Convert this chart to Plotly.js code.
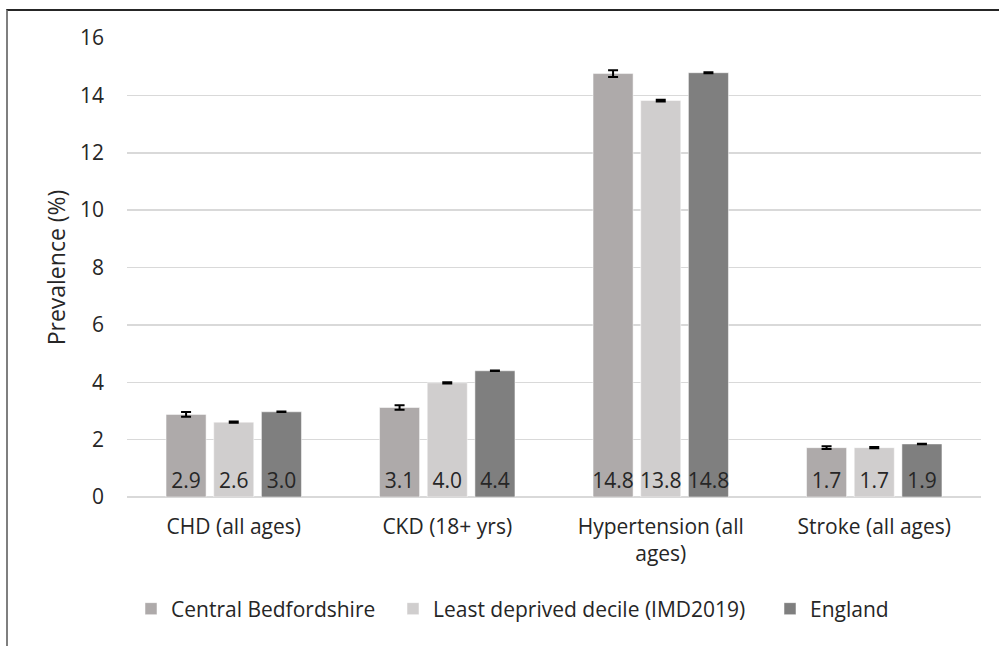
<!DOCTYPE html>
<html>
<head>
<meta charset="utf-8">
<script src="https://cdn.plot.ly/plotly-3.0.1.min.js"></script>
<style>
  html, body { margin: 0; padding: 0; background: #fff; }
  #chart { width: 999px; height: 646px; position: absolute; left: 0; top: 0; }
  #frame { position: absolute; left: 6px; top: 9px; width: 1000px; height: 700px;
           border-left: 2px solid #7f7f7f; border-top: 2px solid #262626; pointer-events: none; }
</style>
</head>
<body>
<div id="chart"></div>
<div id="frame"></div>
<script>
const categories = ["CHD (all ages)", "CKD (18+ yrs)", "Hypertension (all<br>ages)", "Stroke (all ages)"];
const seriesNames = ["Central Bedfordshire", "Least deprived decile (IMD2019)", "England"];
const centralBeds = [2.88, 3.12, 14.76, 1.72];
const centralBedsErr = [0.08, 0.08, 0.12, 0.05];
const leastDeprived = [2.61, 3.98, 13.82, 1.72];
const leastDeprivedErr = [0.02, 0.02, 0.03, 0.02];
const england = [2.97, 4.40, 14.79, 1.85];
const englandErr = [0.01, 0.01, 0.02, 0.01];
const colors = ["#AEAAAA", "#D0CECE", "#7F7F7F"];
const yTicks = [0, 2, 4, 6, 8, 10, 12, 14, 16];

const values = [centralBeds, leastDeprived, england];
const errs = [centralBedsErr, leastDeprivedErr, englandErr];

const font = "'Open Sans', 'Noto Sans', sans-serif";
const fs = 21;

const W = 999, H = 646;
const M = { l: 127, r: 18, t: 38, b: 149 };
const plotW = W - M.l - M.r;
const plotH = H - M.t - M.b;
const pxToPaperX = px => (px - M.l) / plotW;
const pxToPaperY = py => (H - M.b - py) / plotH;

const legendIds = ["legend", "legend2", "legend3"];
const legendLeftPx = [131, 393, 770];

const traces = seriesNames.map((name, i) => ({
  type: "bar",
  name: name,
  legend: legendIds[i],
  x: categories,
  y: values[i],
  marker: { color: colors[i], line: { color: "rgba(255,255,255,0.5)", width: 1 } },
  error_y: { type: "data", array: errs[i], visible: true, color: "#000", thickness: 2, width: 5 },
  texttemplate: "%{y:.1f}",
  textposition: "inside",
  insidetextanchor: "start",
  textangle: 0,
  textfont: { family: font, size: fs, color: "#262626" },
  hoverinfo: "skip"
}));

const layout = {
  width: W,
  height: H,
  margin: M,
  paper_bgcolor: "#fff",
  plot_bgcolor: "#fff",
  barmode: "group",
  bargap: 0.33,
  bargroupgap: 0.16,
  showlegend: true,
  font: { family: font, size: fs, color: "#262626" },
  uniformtext: { mode: "show", minsize: fs },
  xaxis: {
    type: "category",
    showgrid: false,
    showline: false,
    zeroline: false,
    ticks: "",
    ticklabelstandoff: 15,
    tickfont: { family: font, size: fs, color: "#262626" },
    automargin: false
  },
  yaxis: {
    range: [0, 16],
    tickvals: yTicks,
    ticktext: yTicks.map(String),
    showgrid: true,
    gridcolor: "#D9D9D9",
    gridwidth: 1.5,
    zeroline: true,
    zerolinecolor: "#D9D9D9",
    zerolinewidth: 1.5,
    ticks: "",
    ticklen: 0,
    ticklabelstandoff: 22,
    tickfont: { family: font, size: fs, color: "#262626" },
    title: { text: "Prevalence (%)", font: { family: font, size: 23, color: "#262626" }, standoff: 7 },
    automargin: false
  }
};

legendIds.forEach((id, i) => {
  layout[id] = {
    orientation: "h",
    x: pxToPaperX(legendLeftPx[i]),
    xanchor: "left",
    y: pxToPaperY(609),
    yanchor: "middle",
    bgcolor: "rgba(0,0,0,0)",
    font: { family: font, size: fs, color: "#262626" }
  };
});

Plotly.newPlot("chart", traces, layout, { displayModeBar: false, staticPlot: true });
</script>
</body>
</html>
